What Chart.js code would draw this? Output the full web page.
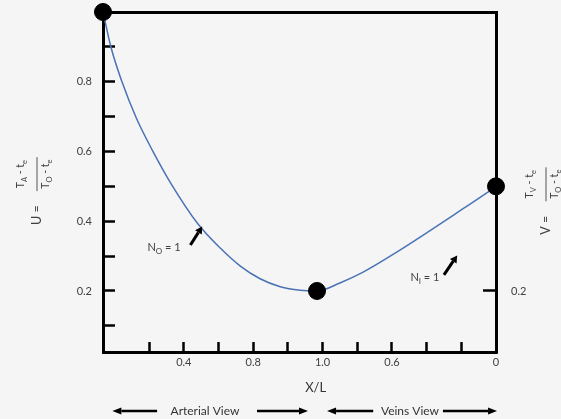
<!DOCTYPE html>
<html><head><meta charset="utf-8">
<script src="https://cdn.jsdelivr.net/npm/chart.js@4/dist/chart.umd.min.js"></script>
<style>html,body{margin:0;padding:0;background:#f5f5f5;overflow:hidden}#wrap{width:561px;height:419px;position:relative}</style>
</head><body><div id="wrap"><canvas id="c" width="561" height="419"></canvas></div>
<script>
// Curve (position along the combined arterial/veins axis, dimensionless temperature)
const curveX = [-0.33, -0.10, 0.22, 0.63, 1.09, 1.63, 2.41, 3.05, 3.62, 4.20, 4.78, 5.35, 5.84, 6.50, 7.17, 8.15, 9.10, 10.05, 10.83, 11.0];
const curveY = [1.0, 0.899, 0.799, 0.696, 0.604, 0.508, 0.392, 0.323, 0.272, 0.235, 0.212, 0.202, 0.200, 0.223, 0.254, 0.312, 0.373, 0.436, 0.488, 0.50];
// Highlighted points
const markerX = [-0.33, 5.84, 11.0];
const markerY = [1.0, 0.2, 0.5];
// Bottom axis ticks
const xTickValues = [1, 2, 3, 4, 5, 6, 7, 8, 9, 10, 11];
const xTickLabels = ['', '0.4', '', '0.8', '', '1.0', '', '0.6', '', '', '0'];
// Left axis ticks
const yTickValues = [0.1, 0.2, 0.3, 0.4, 0.5, 0.6, 0.7, 0.8, 0.9];
const yTickLabels = ['', '0.2', '', '0.4', '', '0.6', '', '0.8', ''];
// Right axis ticks
const y2TickValues = [0.2];
const y2TickLabels = ['0.2'];
// Axis ranges
const xRange = [-0.33, 11.0];
const yRange = [0.025, 1.0];

const FONT = 'Lato, "Open Sans", "Noto Sans", sans-serif';
const TXT = '#404040';

function drawArrow(ctx, x1, y1, x2, y2, lw, head, hw) {
  const a = Math.atan2(y2 - y1, x2 - x1);
  const bx = x2 - head * Math.cos(a), by = y2 - head * Math.sin(a);
  ctx.save();
  ctx.strokeStyle = '#000'; ctx.fillStyle = '#000'; ctx.lineWidth = lw;
  ctx.beginPath(); ctx.moveTo(x1, y1); ctx.lineTo(bx, by); ctx.stroke();
  ctx.beginPath();
  ctx.moveTo(x2, y2);
  ctx.lineTo(bx + hw * Math.sin(a), by - hw * Math.cos(a));
  ctx.lineTo(bx - hw * Math.sin(a), by + hw * Math.cos(a));
  ctx.closePath(); ctx.fill();
  ctx.restore();
}

function measureParts(ctx, parts, size, subSize) {
  let w = 0;
  parts.forEach(p => { ctx.font = (p[1] ? subSize : size) + 'px ' + FONT; w += ctx.measureText(p[0]).width; });
  return w;
}
function drawParts(ctx, parts, x, y, size, subSize, align) {
  const w = measureParts(ctx, parts, size, subSize);
  let cx = align === 'center' ? x - w / 2 : x;
  ctx.textAlign = 'left'; ctx.textBaseline = 'alphabetic';
  parts.forEach(p => {
    ctx.font = (p[1] ? subSize : size) + 'px ' + FONT;
    ctx.fillText(p[0], cx, p[1] ? y + 3 : y);
    cx += ctx.measureText(p[0]).width;
  });
}

function drawFraction(ctx, cx, cy, lhs, num, den) {
  ctx.save();
  ctx.translate(cx, cy);
  ctx.rotate(-Math.PI / 2);
  ctx.fillStyle = TXT;
  ctx.strokeStyle = '#555'; ctx.lineWidth = 1;
  ctx.beginPath(); ctx.moveTo(-17, 0); ctx.lineTo(17, 0); ctx.stroke();
  drawParts(ctx, num, 0, -13, 10.5, 7.5, 'center');
  drawParts(ctx, den, 0, 12, 10.5, 7.5, 'center');
  ctx.font = '12.5px ' + FONT; ctx.textAlign = 'center'; ctx.textBaseline = 'middle';
  ctx.fillText(lhs, -41, 0);
  ctx.restore();
}

const annotations = {
  id: 'annotations',
  afterDraw(chart) {
    const ctx = chart.ctx, xs = chart.scales.x, ys = chart.scales.y, ca = chart.chartArea;
    ctx.save();
    ctx.fillStyle = TXT;
    // N_O = 1
    drawParts(ctx, [['N', false], ['O', true], [' = 1', false]], xs.getPixelForValue(1.43), ys.getPixelForValue(0.326) + 4, 11, 8, 'center');
    drawArrow(ctx, xs.getPixelForValue(2.19), ys.getPixelForValue(0.332), xs.getPixelForValue(2.53), ys.getPixelForValue(0.385), 3, 7, 4);
    // N_I = 1
    ctx.fillStyle = TXT;
    drawParts(ctx, [['N', false], ['I', true], [' = 1', false]], xs.getPixelForValue(8.95), ys.getPixelForValue(0.24) + 4, 11, 8, 'center');
    drawArrow(ctx, xs.getPixelForValue(9.50), ys.getPixelForValue(0.246), xs.getPixelForValue(9.88), ys.getPixelForValue(0.302), 3, 7, 4);
    // Axis title X/L
    ctx.fillStyle = '#333';
    ctx.font = '13px ' + FONT; ctx.textAlign = 'center'; ctx.textBaseline = 'middle';
    ctx.fillText('X/L', xs.getPixelForValue(5.8), ca.bottom + 36);
    // Views
    const vy = ca.bottom + 59;
    ctx.font = '12px ' + FONT;
    ctx.fillText('Arterial View', xs.getPixelForValue(2.61), vy);
    ctx.fillText('Veins View', xs.getPixelForValue(8.52), vy);
    drawArrow(ctx, xs.getPixelForValue(1.23), vy, xs.getPixelForValue(-0.06), vy, 2.5, 9, 3.5);
    drawArrow(ctx, xs.getPixelForValue(4.11), vy, xs.getPixelForValue(5.58), vy, 2.5, 9, 3.5);
    drawArrow(ctx, xs.getPixelForValue(7.46), vy, xs.getPixelForValue(6.13), vy, 2.5, 9, 3.5);
    drawArrow(ctx, xs.getPixelForValue(9.47), vy, xs.getPixelForValue(11.03), vy, 2.5, 9, 3.5);
    // Vertical axis titles
    drawFraction(ctx, ca.left - 66, ys.getPixelForValue(0.535), 'U =',
      [['T', false], ['A', true], [' - t', false], ['e', true]],
      [['T', false], ['O', true], [' - t', false], ['e', true]]);
    drawFraction(ctx, ca.right + 50, ys.getPixelForValue(0.506), 'V =',
      [['T', false], ['V', true], [' - t', false], ['e', true]],
      [['T', false], ['O', true], [' - t', false], ['e', true]]);
    ctx.restore();
  }
};

const tickFont = { family: FONT, size: 11 };
function noPad(s) { s.paddingTop = 0; s.paddingBottom = 0; s.paddingLeft = 0; s.paddingRight = 0; }

new Chart(document.getElementById('c'), {
  type: 'scatter',
  data: {
    datasets: [
      {
        type: 'scatter',
        data: markerX.map((x, i) => ({ x, y: markerY[i] })),
        pointRadius: 8.5, pointHoverRadius: 8.5,
        pointBackgroundColor: '#000', pointBorderColor: '#000',
        showLine: false, clip: false, order: 0
      },
      {
        type: 'line',
        data: curveX.map((x, i) => ({ x, y: curveY[i] })),
        borderColor: '#4a72b5', borderWidth: 1.5,
        pointRadius: 0, fill: false,
        cubicInterpolationMode: 'monotone', clip: false, order: 1
      }
    ]
  },
  options: {
    responsive: false, animation: false,
    layout: { padding: 0 },
    plugins: { legend: { display: false }, tooltip: { enabled: false } },
    scales: {
      x: {
        type: 'linear', position: 'bottom', min: xRange[0], max: xRange[1],
        afterBuildTicks: s => { s.ticks = xTickValues.map(v => ({ value: v })); },
        afterFit: s => { s.height = 67; noPad(s); },
        ticks: { autoSkip: false, maxRotation: 0, padding: 14, font: tickFont, color: TXT,
          callback: (v, i) => xTickLabels[i] },
        grid: { display: true, drawOnChartArea: false, drawTicks: true, tickLength: -10, tickWidth: 2.5, tickColor: '#000' },
        border: { display: true, color: '#000', width: 3 }
      },
      xTop: {
        type: 'linear', position: 'top', min: xRange[0], max: xRange[1],
        afterFit: s => { s.height = 12; noPad(s); },
        ticks: { display: false },
        grid: { display: false },
        border: { display: true, color: '#000', width: 3 }
      },
      y: {
        type: 'linear', position: 'left', min: yRange[0], max: yRange[1],
        afterBuildTicks: s => { s.ticks = yTickValues.map(v => ({ value: v })); },
        afterFit: s => { s.width = 103; noPad(s); },
        ticks: { padding: 23, font: tickFont, color: TXT, callback: (v, i) => yTickLabels[i] },
        grid: { display: true, drawOnChartArea: false, drawTicks: true, tickLength: -12, tickWidth: 2.5, tickColor: '#000' },
        border: { display: true, color: '#000', width: 3 }
      },
      y2: {
        type: 'linear', position: 'right', min: yRange[0], max: yRange[1],
        afterBuildTicks: s => { s.ticks = y2TickValues.map(v => ({ value: v })); },
        afterFit: s => { s.width = 65; noPad(s); },
        ticks: { padding: 28, font: tickFont, color: TXT, callback: (v, i) => y2TickLabels[i] },
        grid: { display: true, drawOnChartArea: false, drawTicks: true, tickLength: -13, tickWidth: 2.5, tickColor: '#000' },
        border: { display: true, color: '#000', width: 3 }
      }
    }
  },
  plugins: [annotations]
});
</script>
</body></html>
